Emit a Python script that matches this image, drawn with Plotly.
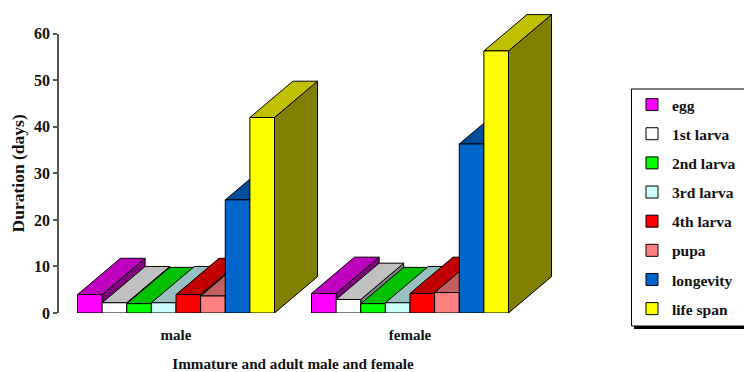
import plotly.graph_objects as go

categories = ["male", "female"]
series_names = ["egg", "1st larva", "2nd larva", "3rd larva", "4th larva", "pupa", "longevity", "life span"]
male_values = [3.95, 2.2, 2.0, 2.2, 3.95, 3.65, 24.3, 42.0]
female_values = [4.2, 2.9, 2.0, 2.2, 4.2, 4.4, 36.3, 56.3]
y_ticks = [0, 10, 20, 30, 40, 50, 60]

front_colors = ["#FF00FF", "#FFFFFF", "#00FF00", "#CCFFFF", "#FF0000", "#FF8080", "#0066CC", "#FFFF00"]
top_colors = ["#BF00BF", "#C0C0C0", "#00C000", "#99C0C0", "#C00000", "#C06060", "#004D99", "#C0C000"]
side_colors = ["#800080", "#808080", "#008000", "#668080", "#800000", "#804040", "#003366", "#808000"]

W, H = 744, 372
L, R, T, B = 59, 144, 13, 59
AXIS_RIGHT = 527
PLOT_W = W - L - R
PLOT_H = H - T - B
PX_PER_CAT = (AXIS_RIGHT - L) / 2
PX_PER_UNIT = 4.655
Y_MAX = PLOT_H / PX_PER_UNIT
BARGAP = 0.158
DEPTH_X = 43 / PX_PER_CAT
DEPTH_Y = 36.3 / PX_PER_UNIT
FONT = "Liberation Serif"
n = len(series_names)
bar_w = (1 - BARGAP) / n


def px(x):
    return (x - L) / PLOT_W


def py(y):
    return (H - B - y) / PLOT_H


fig = go.Figure()

# depth faces (side and top), painted left to right on the lower subplot
for c, vals in enumerate([male_values, female_values]):
    for i, v in enumerate(vals):
        x0 = c - (1 - BARGAP) / 2 + i * bar_w
        x1 = x0 + bar_w
        side_x = [x1, x1 + DEPTH_X, x1 + DEPTH_X, x1, x1]
        side_y = [0, DEPTH_Y, v + DEPTH_Y, v, 0]
        top_x = [x0, x1, x1 + DEPTH_X, x0 + DEPTH_X, x0]
        top_y = [v, v, v + DEPTH_Y, v + DEPTH_Y, v]
        for fx, fy, col in ((side_x, side_y, side_colors[i]), (top_x, top_y, top_colors[i])):
            fig.add_trace(go.Scatter(x=fx, y=fy, mode="lines", fill="toself", fillcolor=col,
                                     line=dict(color="#000000", width=1), showlegend=False,
                                     hoverinfo="skip", xaxis="x", yaxis="y"))

# front faces on a second subplot drawn above the first
for i, name in enumerate(series_names):
    fig.add_trace(go.Bar(x=categories, y=[male_values[i], female_values[i]], name=name,
                         legendgroup=name, xaxis="x2", yaxis="y2",
                         marker=dict(color=front_colors[i], line=dict(color="#000000", width=1))))

TXT = "#111111"
fig.update_layout(
    width=W, height=H, autosize=False,
    margin=dict(l=L, r=R, t=T, b=B, autoexpand=False),
    paper_bgcolor="#FFFFFF", plot_bgcolor="rgba(0,0,0,0)",
    barmode="group", bargap=BARGAP, bargroupgap=0,
    font=dict(family=FONT, color=TXT),
    xaxis=dict(domain=[0, 1], range=[-0.5, -0.5 + PLOT_W / PX_PER_CAT], visible=False, fixedrange=True),
    yaxis=dict(domain=[0, 1], range=[0, Y_MAX], visible=False),
    xaxis2=dict(domain=[0, px(AXIS_RIGHT)], anchor="y2", side="bottom", type="category", range=[-0.5, 1.5],
                showgrid=False, zeroline=False, showline=False, ticks="", ticklabelstandoff=11,
                tickfont=dict(family=FONT, size=15, color=TXT, weight="bold"),
                title=dict(text="Immature and adult male and female", font=dict(family=FONT, size=15.2, color=TXT, weight="bold"), standoff=21)),
    yaxis2=dict(domain=[0, y_ticks[-1] * PX_PER_UNIT / PLOT_H], anchor="x2", range=[y_ticks[0], y_ticks[-1]],
                tickmode="array", tickvals=y_ticks, ticks="outside", ticklen=4,
                tickwidth=1.5, tickcolor="#555555", showgrid=False, zeroline=False,
                showline=True, linecolor="#555555", linewidth=1.5,
                tickfont=dict(family=FONT, size=16, color=TXT, weight="bold"),
                title=dict(text="Duration (days)", font=dict(family=FONT, size=17.5, color=TXT, weight="bold"), standoff=5)),
    legend=dict(x=px(632), y=py(88), xanchor="left", yanchor="top",
                bgcolor="rgba(0,0,0,0)", borderwidth=0,
                font=dict(family=FONT, size=15.5, color=TXT, weight="bold"),
                tracegroupgap=6, traceorder="grouped", itemclick=False, itemdoubleclick=False),
    shapes=[
        dict(type="rect", xref="paper", yref="paper", layer="below",
             x0=px(634), x1=px(750), y0=py(329), y1=py(326),
             fillcolor="#000000", line=dict(width=0)),
        dict(type="rect", xref="paper", yref="paper", layer="below",
             x0=px(631.5), x1=px(750), y0=py(326), y1=py(89),
             fillcolor="#FFFFFF", line=dict(color="#000000", width=1)),
    ],
)

fig.write_html("out.html", config=dict(displayModeBar=False),
               post_script="document.body.style.margin='0';document.body.style.overflow='hidden';")
